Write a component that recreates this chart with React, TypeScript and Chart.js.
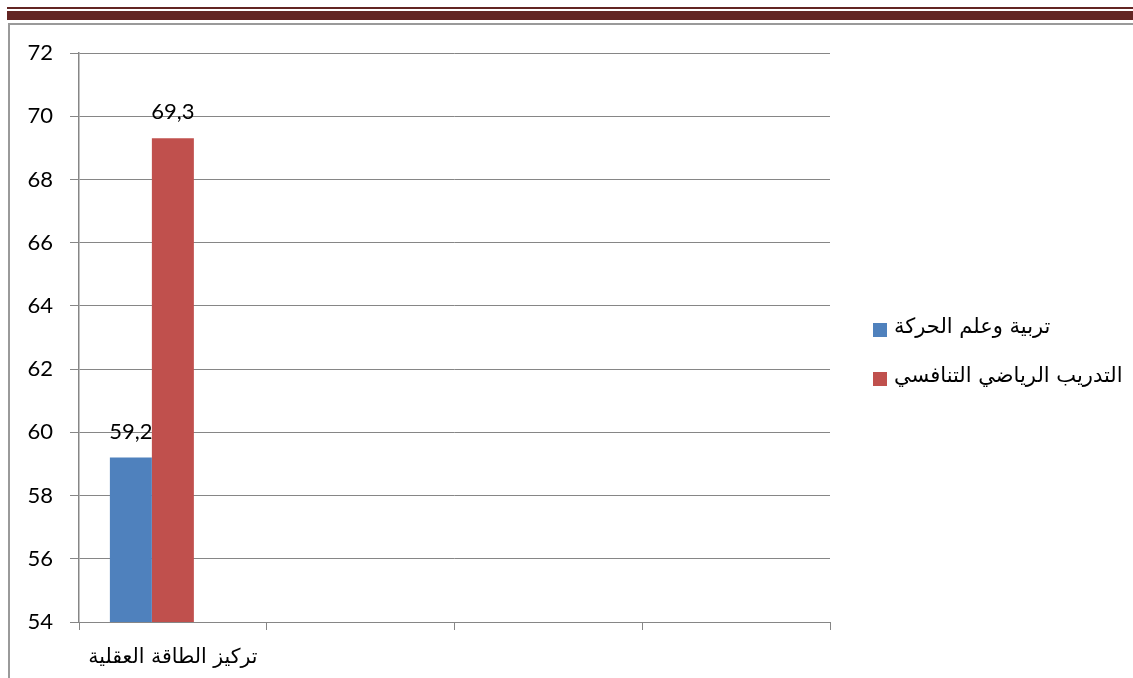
import React, { useEffect, useRef } from "react";
import { Chart, registerables } from "chart.js";

Chart.register(...registerables);

const categories: string[] = ["تركيز الطاقة العقلية", "", "", ""];
const seriesNames: string[] = ["تربية وعلم الحركة", "التدريب الرياضي التنافسي", ""];
const seriesA: (number | null)[] = [59.2, null, null, null];
const seriesB: (number | null)[] = [69.3, null, null, null];
const seriesSpacer: (number | null)[] = [null, null, null, null];
const yTicks: number[] = [54, 56, 58, 60, 62, 64, 66, 68, 70, 72];

const colors = ["#4F81BD", "#C0504D", "rgba(0,0,0,0)"];
const GRID = "#868686";
const NUM_FONT = "Lato, 'Liberation Sans', sans-serif";
const AR_FONT = "'DejaVu Sans', 'Liberation Sans', sans-serif";

const dataLabelPlugin = {
  id: "dataLabels",
  afterDatasetsDraw(chart: any) {
    const ctx = chart.ctx;
    ctx.save();
    ctx.font = `22px ${NUM_FONT}`;
    ctx.fillStyle = "#000";
    ctx.textAlign = "center";
    ctx.textBaseline = "alphabetic";
    chart.data.datasets.forEach((ds: any, i: number) => {
      if (!ds.label) return;
      const meta = chart.getDatasetMeta(i);
      meta.data.forEach((el: any, j: number) => {
        const v = ds.data[j];
        if (v === null || v === undefined) return;
        ctx.fillText(String(v).replace(".", ","), el.x, el.y - 19);
      });
    });
    ctx.restore();
  },
};

const customLegend = {
  id: "customLegend",
  afterDraw(chart: any) {
    const ctx = chart.ctx;
    const area = chart.chartArea;
    ctx.save();
    ctx.font = `21px ${AR_FONT}`;
    ctx.textBaseline = "middle";
    ctx.textAlign = "left";
    const items = chart.data.datasets.filter((d: any) => d.label);
    const x0 = area.right + 43;
    const yStart = 330;
    const gap = 49;
    items.forEach((d: any, k: number) => {
      const cy = yStart + k * gap;
      ctx.fillStyle = d.backgroundColor;
      ctx.fillRect(x0, cy - 7, 14, 14);
      ctx.fillStyle = "#000";
      ctx.fillText(d.label, x0 + 21, cy - 2);
    });
    ctx.restore();
  },
};

export default function App() {
  const ref = useRef<HTMLCanvasElement | null>(null);
  useEffect(() => {
    if (!ref.current) return;
    const chart = new Chart(ref.current, {
      type: "bar",
      data: {
        labels: categories,
        datasets: [
          { label: seriesNames[0], data: seriesA, backgroundColor: colors[0] },
          { label: seriesNames[1], data: seriesB, backgroundColor: colors[1] },
          { label: seriesNames[2], data: seriesSpacer, backgroundColor: colors[2] },
        ],
      },
      options: {
        animation: false,
        responsive: false,
        maintainAspectRatio: false,
        devicePixelRatio: 1,
        layout: { padding: { left: 0, top: 53, right: 303, bottom: 0 } },
        datasets: { bar: { categoryPercentage: 0.671, barPercentage: 1 } },
        plugins: {
          legend: { display: false },
          tooltip: { enabled: false },
          title: { display: false },
        },
        scales: {
          x: {
            afterFit: (s: any) => {
              s.height = 56;
            },
            grid: {
              display: true,
              drawOnChartArea: false,
              drawTicks: true,
              tickLength: 8,
              offset: true,
              color: GRID,
              lineWidth: 1,
            },
            border: { display: true, color: GRID, width: 1 },
            ticks: {
              color: "#000",
              font: { family: AR_FONT, size: 20.5 },
              padding: 15,
              maxRotation: 0,
              autoSkip: false,
            },
          },
          y: {
            min: yTicks[0],
            max: yTicks[yTicks.length - 1],
            afterFit: (s: any) => {
              s.width = 79;
            },
            afterBuildTicks: (s: any) => {
              s.ticks = yTicks.map((v) => ({ value: v }));
            },
            grid: {
              color: GRID,
              lineWidth: 1,
              tickLength: 9,
              drawTicks: true,
            },
            border: { display: true, color: GRID, width: 1.5 },
            ticks: {
              color: "#000",
              font: { family: NUM_FONT, size: 22 },
              padding: 17,
              callback: (v: any) => String(v),
            },
          },
        },
      },
      plugins: [dataLabelPlugin, customLegend],
    });
    return () => chart.destroy();
  }, []);

  return (
    <div style={{ position: "fixed", left: 0, top: 0, width: 1133, height: 678, background: "#fff" }}>
      <canvas ref={ref} width={1133} height={678} style={{ position: "absolute", left: 0, top: 0, width: 1133, height: 678 }} />
      <div style={{ position: "absolute", left: 7, top: 7, right: 0, height: 2, background: "#632523" }} />
      <div style={{ position: "absolute", left: 7, top: 11, right: 0, height: 9, background: "#632523" }} />
      <div style={{ position: "absolute", left: 8, top: 23, right: 0, height: 2, background: "#9a9a9a" }} />
      <div style={{ position: "absolute", left: 8, top: 23, width: 2, bottom: 0, background: "#9a9a9a" }} />
    </div>
  );
}
